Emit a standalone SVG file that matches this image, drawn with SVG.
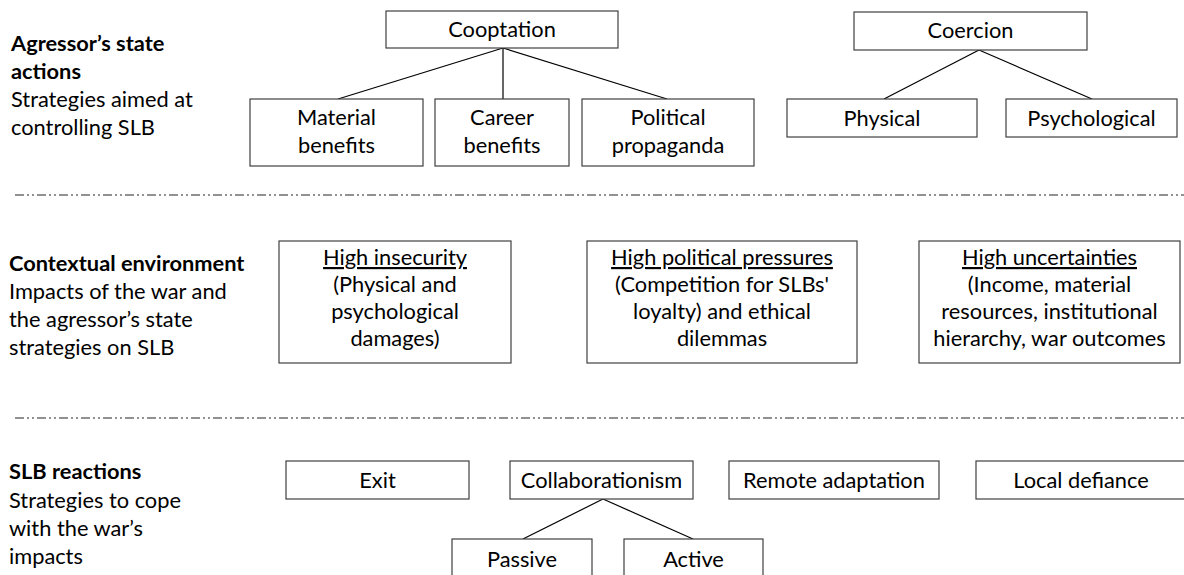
<svg xmlns="http://www.w3.org/2000/svg" width="1184" height="575" viewBox="0 0 1184 575">
<style>
text{font-family:Lato,"Liberation Sans",sans-serif;font-size:21.8px;fill:#000}
.c{text-anchor:middle}
.b{font-weight:bold}
.box{fill:#fff;stroke:#404040;stroke-width:1.2}
.sep{stroke:#6e6e6e;stroke-width:1.3;stroke-dasharray:9 3 2 3 2 3;fill:none}
#connectors line{stroke:#000;stroke-width:1.2}
</style>
<rect width="1184" height="575" fill="#fff"/>
<g id="separators">
<line class="sep" x1="15" y1="195" x2="1184" y2="195"/>
<line class="sep" x1="15" y1="418" x2="1184" y2="418"/>
</g>
<g id="labels">
<text x="11" y="51" class="b">Agressor’s state</text>
<text x="11" y="79" class="b">actions</text>
<text x="11" y="107">Strategies aimed at</text>
<text x="11" y="135">controlling SLB</text>
<text x="9" y="271" class="b">Contextual environment</text>
<text x="9" y="299">Impacts of the war and</text>
<text x="9" y="327">the agressor’s state</text>
<text x="9" y="355">strategies on SLB</text>
<text x="9" y="479" class="b">SLB reactions</text>
<text x="9" y="508">Strategies to cope</text>
<text x="9" y="536">with the war’s</text>
<text x="9" y="564">impacts</text>
</g>
<g id="connectors">
<line x1="503" y1="48" x2="338" y2="99"/>
<line x1="503" y1="48" x2="503" y2="99"/>
<line x1="503" y1="48" x2="667" y2="99"/>
<line x1="979" y1="50" x2="884" y2="99"/>
<line x1="979" y1="50" x2="1092" y2="99"/>
<line x1="603" y1="499" x2="523" y2="539"/>
<line x1="603" y1="499" x2="693" y2="539"/>
</g>
<g id="cooptation"><rect class="box" x="386" y="11" width="232" height="37"/><text class="c" x="502" y="37">Cooptation</text></g>
<g id="material"><rect class="box" x="250" y="99" width="173" height="67"/><text class="c" x="336.5" y="125">Material</text><text class="c" x="336.5" y="153">benefits</text></g>
<g id="career"><rect class="box" x="435" y="99" width="134" height="67"/><text class="c" x="502" y="125">Career</text><text class="c" x="502" y="153">benefits</text></g>
<g id="political"><rect class="box" x="582" y="99" width="172" height="67"/><text class="c" x="668" y="125">Political</text><text class="c" x="668" y="153">propaganda</text></g>
<g id="coercion"><rect class="box" x="854" y="12" width="233" height="38"/><text class="c" x="970.5" y="38">Coercion</text></g>
<g id="physical"><rect class="box" x="787" y="99" width="190" height="38"/><text class="c" x="882" y="126">Physical</text></g>
<g id="psychological"><rect class="box" x="1006" y="99" width="171" height="38"/><text class="c" x="1091.5" y="126">Psychological</text></g>
<g id="insecurity"><rect class="box" x="279" y="241" width="232" height="122"/>
<text class="c" x="395" y="265" text-decoration="underline">High insecurity</text>
<text class="c" x="395" y="292">(Physical and</text>
<text class="c" x="395" y="319">psychological</text>
<text class="c" x="395" y="346">damages)</text></g>
<g id="pressures"><rect class="box" x="587" y="241" width="270" height="122"/>
<text class="c" x="722" y="265" text-decoration="underline">High political pressures</text>
<text class="c" x="722" y="292">(Competition for SLBs'</text>
<text class="c" x="722" y="319">loyalty) and ethical</text>
<text class="c" x="722" y="346">dilemmas</text></g>
<g id="uncertainties"><rect class="box" x="919" y="241" width="261" height="122"/>
<text class="c" x="1049.5" y="265" text-decoration="underline">High uncertainties</text>
<text class="c" x="1049.5" y="292">(Income, material</text>
<text class="c" x="1049.5" y="319">resources, institutional</text>
<text class="c" x="1049.5" y="346">hierarchy, war outcomes</text></g>
<g id="exit"><rect class="box" x="286" y="461" width="183" height="38"/><text class="c" x="377.5" y="488">Exit</text></g>
<g id="collaborationism"><rect class="box" x="510" y="461" width="183" height="38"/><text class="c" x="601.5" y="488">Collaborationism</text></g>
<g id="remote"><rect class="box" x="729" y="461" width="210" height="38"/><text class="c" x="834" y="488">Remote adaptation</text></g>
<g id="local"><rect class="box" x="976" y="461" width="215" height="38"/><text class="c" x="1081" y="488">Local defiance</text></g>
<g id="passive"><rect class="box" x="452" y="539" width="140" height="45"/><text class="c" x="522" y="567">Passive</text></g>
<g id="active"><rect class="box" x="624" y="539" width="139" height="45"/><text class="c" x="693.5" y="567">Active</text></g>
</svg>
